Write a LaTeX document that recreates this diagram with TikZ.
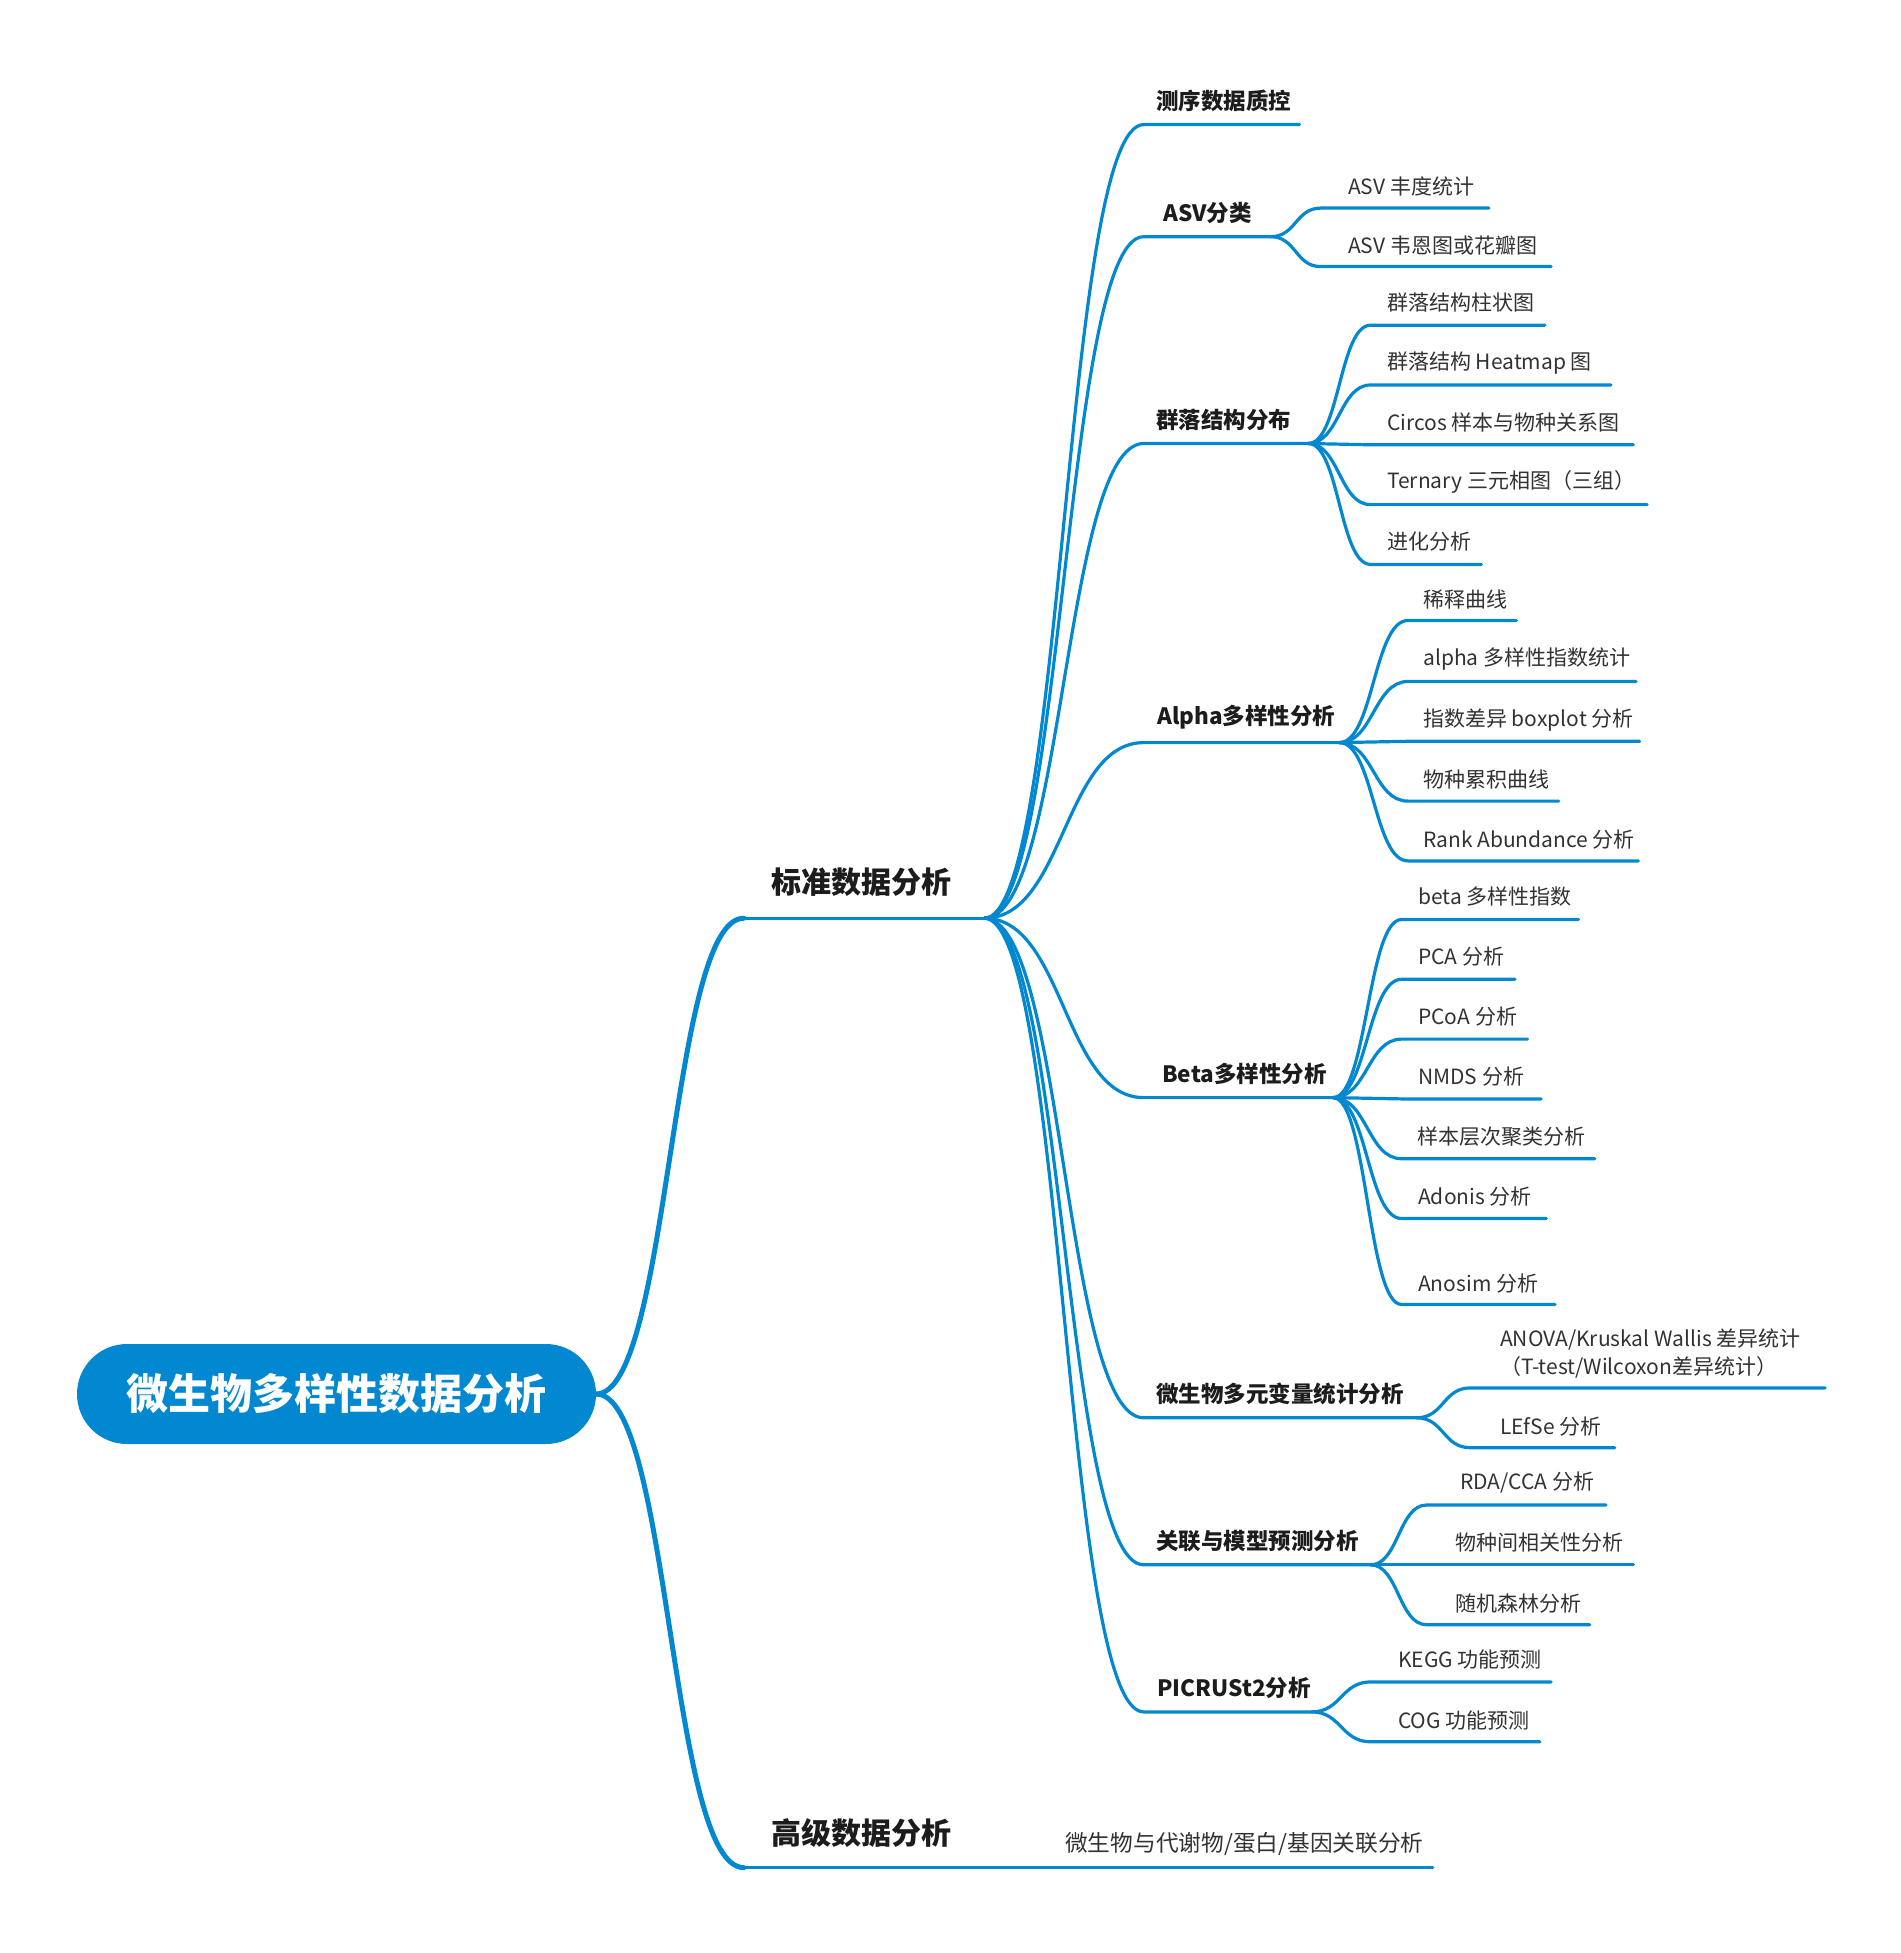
\documentclass[tikz,border=0pt]{standalone}
\usepackage{fontspec}
\setmainfont{Noto Sans CJK SC}
\definecolor{mmblue}{RGB}{2,136,209}
\definecolor{txtc}{RGB}{28,28,28}
\definecolor{txtl}{RGB}{50,50,50}
\newcommand\mmbranch[6]{%
  \coordinate (#2s) at (#3,#4);
  \coordinate (#2e) at (#5,#4);
  \draw[conn] (#1) .. controls +(#6,0) and +(-#6,0) .. (#2s) -- (#2e);}
\tikzset{
  conn/.style={draw=mmblue, line width=3.2pt, line cap=round},
  rootconn/.style={draw=mmblue, line width=5pt, line cap=round},
  lvone/.style={font=\bfseries\fontsize{30}{36}\selectfont, text=txtc, anchor=west, inner sep=0pt},
  lvtwo/.style={font=\bfseries\fontsize{22.5}{27}\selectfont, text=txtc, anchor=west, inner sep=0pt},
  lvthree/.style={font=\fontsize{21}{28.7}\selectfont, text=txtl, anchor=west, inner sep=0pt, align=left},
  rootbox/.style={fill=mmblue, rounded corners=50pt, minimum width=519pt, minimum height=100pt, inner sep=0pt,
    text=white, font=\bfseries\fontsize{42}{50}\selectfont},
}
\begin{document}
\begin{tikzpicture}[x=1pt,y=-1pt]
\useasboundingbox (0,0) rectangle (1900,1953);
% root
\node[rootbox] (root) at (336.5,1394) {微生物多样性数据分析};
% level 1
\coordinate (stds) at (743.8,918.2);
\coordinate (stde) at (984.3,918.2);
\coordinate (advs) at (743.8,1867.6);
\coordinate (adve) at (984.3,1867.6);
\draw[rootconn] (root.east) .. controls +(74,0) and +(-74,0) .. (stds);
\draw[rootconn] (root.east) .. controls +(74,0) and +(-74,0) .. (advs);
\draw[conn] (stds) -- (stde);
\draw[conn] (advs) -- (adve);
\node[lvone] (stdt) at (771,882) {标准数据分析};
\node[lvone] (advt) at (771,1832.7) {高级数据分析};
\coordinate (adv1e) at (1432.8,1867.6);
\draw[conn] (adve) -- (adv1e);
\node[lvthree, font=\fontsize{22.7}{28}\selectfont] (adv1t) at (1065,1844) {微生物与代谢物/蛋白/基因关联分析};
% level 2
\mmbranch{stde}{qc}{1143.7}{124.6}{1299.5}{80}
\mmbranch{stde}{asv}{1143.7}{236.7}{1270.8}{80}
\mmbranch{stde}{qun}{1143.7}{443.5}{1308.2}{80}
\mmbranch{stde}{alp}{1143.7}{742.6}{1339.3}{80}
\mmbranch{stde}{bet}{1143.7}{1097.6}{1333.1}{80}
\mmbranch{stde}{mul}{1143.7}{1417.8}{1416.6}{80}
\mmbranch{stde}{cor}{1143.7}{1564.8}{1370.5}{80}
\mmbranch{stde}{pic}{1143.7}{1711.9}{1311.9}{80}
\node[lvtwo] (qct) at (1156,100.9) {测序数据质控};
\node[lvtwo] (asvt) at (1163,213.0) {ASV分类};
\node[lvtwo] (qunt) at (1156,419.9) {群落结构分布};
\node[lvtwo] (alpt) at (1157,717.6) {Alpha多样性分析};
\node[lvtwo] (bett) at (1162,1074.0) {Beta多样性分析};
\node[lvtwo] (mult) at (1156,1394.2) {微生物多元变量统计分析};
\node[lvtwo] (cort) at (1156,1541.2) {关联与模型预测分析};
\node[lvtwo] (pict) at (1157,1688.2) {PICRUSt2分析};
% ASV
\mmbranch{asve}{asva}{1320.7}{208.1}{1488.9}{25}
\mmbranch{asve}{asvb}{1320.7}{266.6}{1551.1}{25}
\node[lvthree] (asvat) at (1348,186.9) {ASV 丰度统计};
\node[lvthree] (asvbt) at (1348,245.4) {ASV 韦恩图或花瓣图};
% qun
\mmbranch{qune}{quna}{1370.5}{325.2}{1544.9}{31}
\mmbranch{qune}{qunb}{1370.5}{385.0}{1610.9}{31}
\mmbranch{qune}{qunc}{1370.5}{444.8}{1633.4}{31}
\mmbranch{qune}{qund}{1370.5}{504.6}{1647.1}{31}
\mmbranch{qune}{qunf}{1370.5}{564.4}{1481.4}{31}
\node[lvthree] (qunat) at (1387,302.8) {群落结构柱状图};
\node[lvthree] (qunbt) at (1387,362.6) {群落结构 Heatmap 图};
\node[lvthree] (qunct) at (1387,422.4) {Circos 样本与物种关系图};
\node[lvthree] (qundt) at (1387,482.2) {Ternary 三元相图（三组）};
\node[lvthree] (qunft) at (1387,542.0) {进化分析};
% alpha
\mmbranch{alpe}{alpa}{1407.9}{620.5}{1516.3}{34}
\mmbranch{alpe}{alpb}{1407.9}{681.5}{1635.9}{34}
\mmbranch{alpe}{alpc}{1407.9}{741.3}{1639.6}{34}
\mmbranch{alpe}{alpd}{1407.9}{801.1}{1558.6}{34}
\mmbranch{alpe}{alpf}{1407.9}{860.9}{1638.4}{34}
\node[lvthree] (alpat) at (1423,599.3) {稀释曲线};
\node[lvthree] (alpbt) at (1423,659.1) {alpha 多样性指数统计};
\node[lvthree] (alpct) at (1423,720.1) {指数差异 boxplot 分析};
\node[lvthree] (alpdt) at (1423,779.9) {物种累积曲线};
\node[lvthree] (alpft) at (1423,839.7) {Rank Abundance 分析};
% beta
\mmbranch{bete}{beta}{1401.6}{919.5}{1578.6}{34}
\mmbranch{bete}{betb}{1401.6}{979.3}{1515.0}{34}
\mmbranch{bete}{betc}{1401.6}{1039.1}{1527.5}{34}
\mmbranch{bete}{betd}{1401.6}{1098.9}{1541.2}{34}
\mmbranch{bete}{betf}{1401.6}{1158.7}{1594.8}{34}
\mmbranch{bete}{betg}{1401.6}{1218.5}{1546.2}{34}
\mmbranch{bete}{beth}{1401.6}{1304.5}{1554.9}{34}
\node[lvthree] (betat) at (1418,897.0) {beta 多样性指数};
\node[lvthree] (betbt) at (1418,956.9) {PCA 分析};
\node[lvthree] (betct) at (1418,1016.7) {PCoA 分析};
\node[lvthree] (betdt) at (1418,1076.5) {NMDS 分析};
\node[lvthree] (betft) at (1417,1136.3) {样本层次聚类分析};
\node[lvthree] (betgt) at (1418,1196.1) {Adonis 分析};
\node[lvthree] (betht) at (1418,1283.3) {Anosim 分析};
% multivariate
\mmbranch{mule}{mula}{1470.2}{1387.9}{1825.2}{27}
\mmbranch{mule}{mulb}{1470.2}{1447.7}{1614.7}{27}
\node[lvthree] (mulat) at (1500,1353.6) {ANOVA/Kruskal Wallis 差异统计\\（T-test/Wilcoxon差异统计）};
\node[lvthree] (mulbt) at (1500,1426.6) {LEfSe 分析};
% correlation
\mmbranch{core}{cora}{1426.6}{1505.0}{1606.0}{28}
\mmbranch{core}{corb}{1426.6}{1564.8}{1633.4}{28}
\mmbranch{core}{corc}{1426.6}{1624.7}{1589.8}{28}
\node[lvthree] (corat) at (1460,1482.6) {RDA/CCA 分析};
\node[lvthree] (corbt) at (1455,1542.4) {物种间相关性分析};
\node[lvthree] (corct) at (1455,1603.5) {随机森林分析};
% picrust
\mmbranch{pice}{pica}{1370.5}{1681.9}{1551.1}{29}
\mmbranch{pice}{picb}{1370.5}{1741.8}{1539.9}{29}
\node[lvthree] (picat) at (1398,1659.5) {KEGG 功能预测};
\node[lvthree] (picbt) at (1398,1720.6) {COG 功能预测};
\end{tikzpicture}
\end{document}
